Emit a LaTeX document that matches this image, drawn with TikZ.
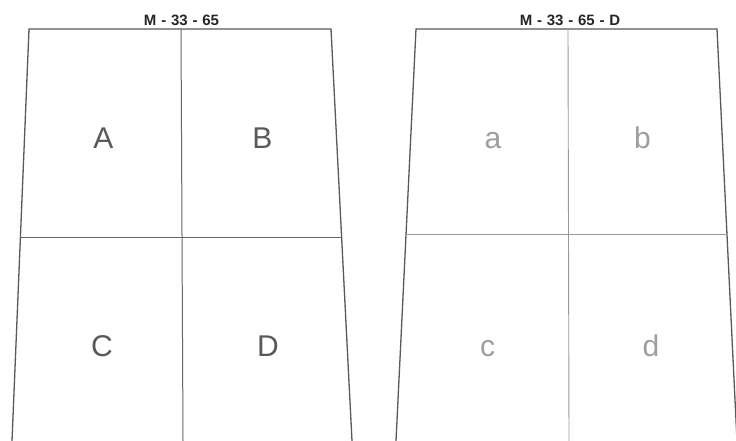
\documentclass[tikz,border=0pt]{standalone}
\usepackage{fontspec}
\setmainfont{Liberation Sans}
\newcommand{\hy}{\hspace{4.8pt}-\hspace{4.8pt}}
\begin{document}
\begin{tikzpicture}[x=1pt,y=-1pt,
  outer/.style={draw=black!65,line width=1.3pt},
  innerL/.style={draw=black!60,line width=1pt},
  innerR/.style={draw=black!40,line width=0.9pt},
  bigL/.style={text=black!65,font=\fontsize{30}{30}\selectfont,anchor=base,inner sep=0pt},
  bigR/.style={text=black!38,font=\fontsize{30}{30}\selectfont,anchor=base,inner sep=0pt},
  ttl/.style={font=\bfseries\fontsize{15}{15}\selectfont,anchor=base,inner sep=0pt,text=black!85}]
\fill[white] (0,0) rectangle (736,440);
\useasboundingbox (0,0) rectangle (736,440);
% left sheet
\coordinate (LTL) at (29,29);
\coordinate (LTR) at (331,29);
\coordinate (LBL) at (12,441);
\coordinate (LBR) at (352,441);
\coordinate (LVT) at (181,29);
\coordinate (LVB) at (183,441);
\coordinate (LHL) at (20.4,237);
\coordinate (LHR) at (341.6,237);
\draw[outer] (LBL) -- (LTL) -- (LTR) -- (LBR);
\draw[innerL] (LVT) -- (LVB);
\draw[innerL] (LHL) -- (LHR);
\node[ttl] (tl) at (181.5,25) {M\hy33\hy65};
\node[bigL] (A) at (103.5,148) {A};
\node[bigL] (B) at (262.5,148) {B};
\node[bigL] (C) at (102,356) {C};
\node[bigL] (D) at (268,356) {D};
% right sheet
\coordinate (RTL) at (416,29);
\coordinate (RTR) at (717,29);
\coordinate (RBL) at (396,441);
\coordinate (RBR) at (737,441);
\coordinate (RVT) at (568,29);
\coordinate (RVB) at (569,441);
\coordinate (RHL) at (406,234);
\coordinate (RHR) at (727,234);
\draw[outer] (RBL) -- (RTL) -- (RTR) -- (RBR);
\draw[innerR] (RVT) -- (RVB);
\draw[innerR] (RHL) -- (RHR);
\node[ttl] (tr) at (570,25) {M\hy33\hy65\hy D};
\node[bigR] (a) at (493,148) {a};
\node[bigR] (b) at (642.5,148) {b};
\node[bigR] (c) at (487.5,356) {c};
\node[bigR] (d) at (651,356) {d};
\end{tikzpicture}
\end{document}
